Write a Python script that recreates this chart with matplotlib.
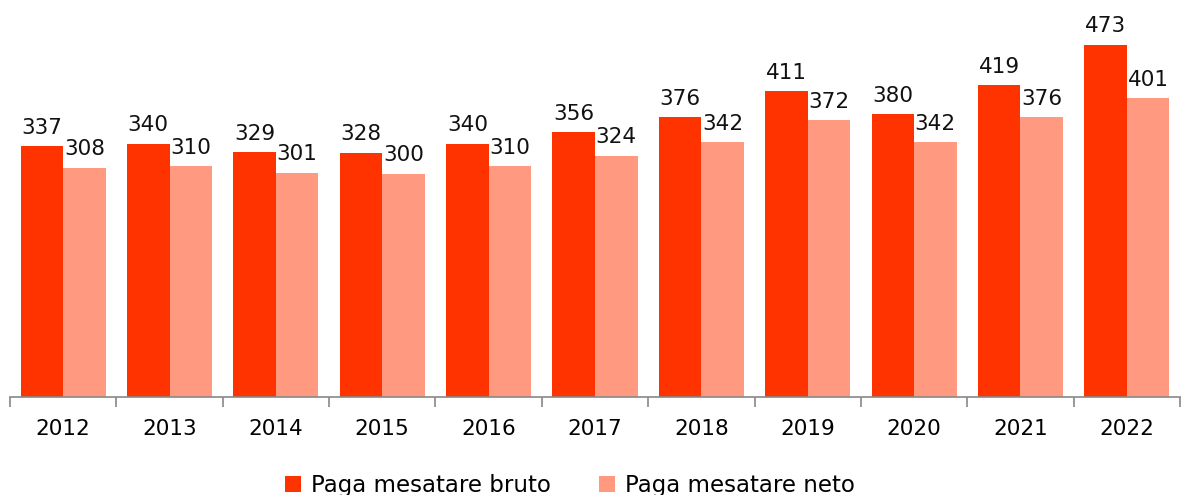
import numpy as np
import matplotlib.pyplot as plt

years = ['2012', '2013', '2014', '2015', '2016', '2017', '2018', '2019', '2020', '2021', '2022']
bruto = [337, 340, 329, 328, 340, 356, 376, 411, 380, 419, 473]
neto = [308, 310, 301, 300, 310, 324, 342, 372, 342, 376, 401]

c_bruto = '#ff3300'
c_neto = '#ff9980'

fig = plt.figure(figsize=(11.85, 4.95), dpi=100)
ax = fig.add_axes([0.0084, 0.198, 0.9874, 0.802])

x = np.arange(len(years))
w = 0.4
b1 = ax.bar(x - w / 2, bruto, w, color=c_bruto, label='Paga mesatare bruto')
b2 = ax.bar(x + w / 2, neto, w, color=c_neto, label='Paga mesatare neto')

for bars in (b1, b2):
    for r in bars:
        ax.annotate(f'{int(r.get_height())}', (r.get_x() + r.get_width() / 2, r.get_height()),
                    xytext=(0, 6), textcoords='offset points', ha='center', va='bottom',
                    fontsize=15.5, color='#111111')

ax.set_xlim(-0.5, len(years) - 0.5)
ax.set_ylim(0, 533)
ax.set_yticks([])
for s in ('top', 'right', 'left'):
    ax.spines[s].set_visible(False)
ax.spines['bottom'].set_color('#888888')
ax.spines['bottom'].set_linewidth(1.2)

ax.set_xticks(x)
ax.set_xticklabels(years, fontsize=15.5)
ax.tick_params(axis='x', length=0, pad=16)
ax.set_xticks(np.arange(-0.5, len(years)), minor=True)
ax.tick_params(axis='x', which='minor', length=7, color='#888888', width=1.2)

fig.legend(handles=[b1, b2], loc='lower center', bbox_to_anchor=(0.481, -0.045), ncol=2,
           frameon=False, fontsize=16.5, handlelength=0.7, handleheight=0.7,
           handletextpad=0.45, columnspacing=2.1)

fig.savefig('out.png', dpi=100)
